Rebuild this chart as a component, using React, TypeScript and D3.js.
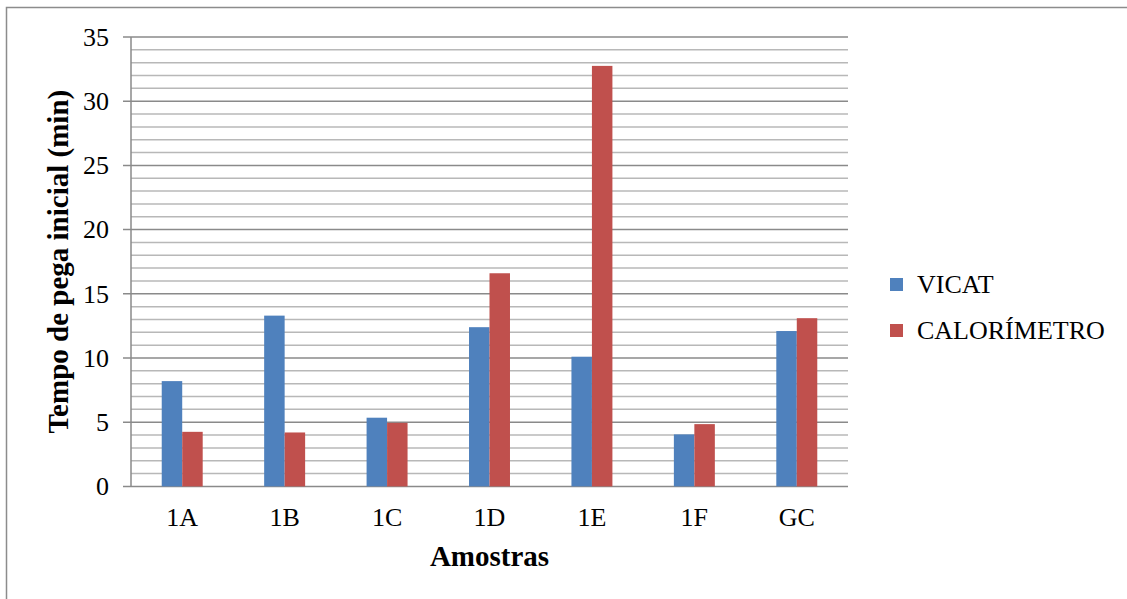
import React from "react";
import * as d3 from "d3";

const categories = ["1A", "1B", "1C", "1D", "1E", "1F", "GC"];
const seriesNames = ["VICAT", "CALORÍMETRO"];
const vicat = [8.2, 13.3, 5.35, 12.4, 10.1, 4.05, 12.1];
const calorimetro = [4.25, 4.2, 4.95, 16.6, 32.75, 4.85, 13.1];
const seriesValues = [vicat, calorimetro];
const colors = ["#4F81BD", "#C0504D"];
const yTicks = [0, 5, 10, 15, 20, 25, 30, 35];
const yMinor = d3.range(1, 35).filter((v) => v % 5 !== 0);

const FONT = "'Liberation Serif', 'Times New Roman', serif";

export default function App() {
  const W = 1127, H = 599;
  const left = 131, right = 848, top = 37, bottom = 486.4;
  const x = d3.scaleBand<string>().domain(categories).range([left, right]).padding(0);
  const y = d3.scaleLinear().domain([0, 35]).range([bottom, top]);
  const b = x.bandwidth() * 0.2;
  const inner = d3.scaleBand<string>().domain(seriesNames).range([0, 2 * b]);

  return (
    <svg width={W} height={H} style={{ position: "absolute", left: 0, top: 0, background: "#fff" }} fontFamily={FONT}>
      <rect x={0} y={0} width={W} height={H} fill="#fff" />
      <rect x={6.5} y={7.5} width={W + 20} height={H + 20} fill="none" stroke="#8c8c8c" strokeWidth={1.5} />
      {yMinor.map((v) => (
        <line key={"m" + v} x1={left} x2={right} y1={y(v)} y2={y(v)} stroke="#b8b8b8" strokeWidth={1.5} />
      ))}
      {yTicks.map((v) => (
        <line key={"M" + v} x1={left - 8} x2={right} y1={y(v)} y2={y(v)} stroke="#8a8a8a" strokeWidth={1.5} />
      ))}
      {categories.map((c, i) =>
        seriesNames.map((s, j) => {
          const v = seriesValues[j][i];
          const cx = (x(c) as number) + x.bandwidth() / 2 - b;
          return (
            <rect
              key={c + s}
              x={cx + (inner(s) as number)}
              y={y(v)}
              width={inner.bandwidth()}
              height={y(0) - y(v)}
              fill={colors[j]}
            />
          );
        })
      )}
      <line x1={left} x2={left} y1={top} y2={bottom} stroke="#8a8a8a" strokeWidth={1.5} />
      {yTicks.map((v) => (
        <text key={"t" + v} x={109} y={y(v)} dy="0.34em" textAnchor="end" fontSize={26} fontFamily={FONT} fill="#000">
          {v}
        </text>
      ))}
      {categories.map((c) => (
        <text key={"c" + c} x={(x(c) as number) + x.bandwidth() / 2} y={526} textAnchor="middle" fontSize={26} fontFamily={FONT} fill="#000">
          {c}
        </text>
      ))}
      <text x={(left + right) / 2} y={566} textAnchor="middle" fontSize={29} fontWeight="bold" fontFamily={FONT} fill="#000">
        Amostras
      </text>
      <text
        transform={`translate(68, ${(top + bottom) / 2}) rotate(-90)`}
        textAnchor="middle"
        fontSize={29}
        fontWeight="bold"
        fontFamily={FONT}
        fill="#000"
      >
        Tempo de pega inicial (min)
      </text>
      {seriesNames.map((s, j) => (
        <g key={"l" + s} transform={`translate(890, ${278 + j * 46})`}>
          <rect x={0} y={0} width={13} height={13} fill={colors[j]} />
          <text x={27} y={15} fontSize={26} fontFamily={FONT} fill="#000">
            {s}
          </text>
        </g>
      ))}
    </svg>
  );
}
